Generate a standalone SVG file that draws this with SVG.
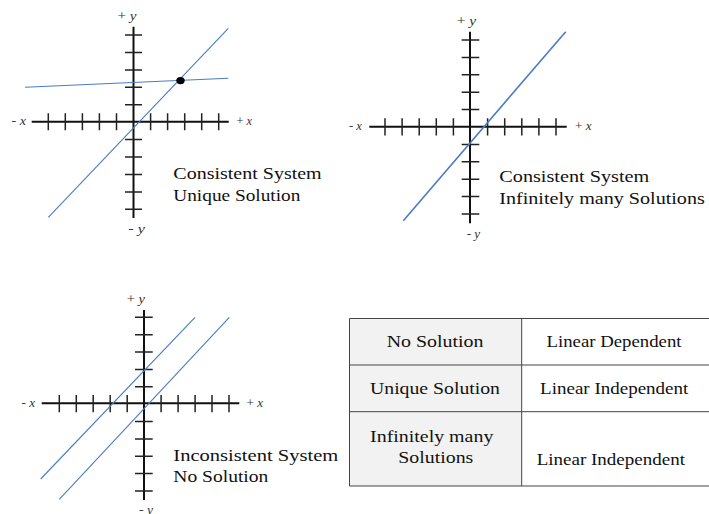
<svg xmlns="http://www.w3.org/2000/svg" width="709" height="514" viewBox="0 0 709 514">
<style>
.axis{stroke:#111;stroke-width:2;fill:none}
.tick{stroke:#222;stroke-width:1.5;fill:none}
.ln{stroke:#4a7cc4;stroke-width:1.1;fill:none}
.lbl{font-family:"Liberation Serif","DejaVu Serif","Times New Roman",serif;font-size:12px;fill:#333}
.lbl .v{font-style:italic}
.t{font-family:"Liberation Serif","DejaVu Serif","Times New Roman",serif;font-size:17px;fill:#111}
.cell{stroke:#444;stroke-width:1}
</style>
<rect width="709" height="514" fill="#fff"/>

<g id="graph-unique">
  <path class="axis" d="M31.7 121.7H228.7M133.5 26.7V218"/>
  <path class="tick" d="M48.3 113.2V130.2M65.3 113.2V130.2M82.4 113.2V130.2M99.4 113.2V130.2M116.5 113.2V130.2M150.6 113.2V130.2M167.6 113.2V130.2M184.7 113.2V130.2M201.7 113.2V130.2M218.7 113.2V130.2"/>
  <path class="tick" d="M125 35H142M125 52.4H142M125 69.9H142M125 87.3H142M125 104.7H142M125 139.6H142M125 157H142M125 174.4H142M125 191.9H142M125 209.3H142"/>
  <g class="lines">
    <path class="ln" d="M48.3 217.3L228.3 28.3"/>
    <path class="ln" d="M25 87.3L228.3 78.3"/>
  </g>
  <ellipse cx="180.5" cy="80.6" rx="4.2" ry="3.7" fill="#000"/>
  <text class="lbl" x="11.5" y="125" textLength="14.5" lengthAdjust="spacingAndGlyphs">- <tspan class="v">x</tspan></text>
  <text class="lbl" x="236.5" y="125" textLength="15.5" lengthAdjust="spacingAndGlyphs">+ <tspan class="v">x</tspan></text>
  <text class="lbl" x="117.5" y="20" textLength="19" lengthAdjust="spacingAndGlyphs">+ <tspan class="v">y</tspan></text>
  <text class="lbl" x="128.3" y="233" textLength="16.5" lengthAdjust="spacingAndGlyphs">- <tspan class="v">y</tspan></text>
  <text class="t" x="173.3" y="179" textLength="148.4" lengthAdjust="spacingAndGlyphs">Consistent System</text>
  <text class="t" x="173.3" y="200.5" textLength="127" lengthAdjust="spacingAndGlyphs">Unique Solution</text>
</g>

<g id="graph-infinite">
  <path class="axis" d="M369.3 126.7H566.7M470 31.7V223.3"/>
  <path class="tick" d="M385 118.3V135.5M402.1 118.3V135.5M419.2 118.3V135.5M436.3 118.3V135.5M453.4 118.3V135.5M487.6 118.3V135.5M504.7 118.3V135.5M521.8 118.3V135.5M538.9 118.3V135.5M556 118.3V135.5"/>
  <path class="tick" d="M461.7 40H479.3M461.7 57.4H479.3M461.7 74.8H479.3M461.7 92.2H479.3M461.7 109.6H479.3M461.7 144.4H479.3M461.7 161.8H479.3M461.7 179.2H479.3M461.7 196.6H479.3M461.7 214H479.3"/>
  <g class="lines">
    <path class="ln" style="stroke-width:1.6" d="M403.3 220.7L565.7 31.7"/>
  </g>
  <text class="lbl" x="349" y="130" textLength="13" lengthAdjust="spacingAndGlyphs">- <tspan class="v">x</tspan></text>
  <text class="lbl" x="575" y="130" textLength="16.5" lengthAdjust="spacingAndGlyphs">+ <tspan class="v">x</tspan></text>
  <text class="lbl" x="456.7" y="25" textLength="19.5" lengthAdjust="spacingAndGlyphs">+ <tspan class="v">y</tspan></text>
  <text class="lbl" x="466.7" y="238" textLength="13.5" lengthAdjust="spacingAndGlyphs">- <tspan class="v">y</tspan></text>
  <text class="t" x="499.3" y="181.5" textLength="150" lengthAdjust="spacingAndGlyphs">Consistent System</text>
  <text class="t" x="499.3" y="203.5" textLength="205.5" lengthAdjust="spacingAndGlyphs">Infinitely many Solutions</text>
</g>

<g id="graph-none">
  <path class="axis" d="M41.7 403.3H239.3M144 310V500"/>
  <path class="tick" d="M59.3 395V412.3M76.3 395V412.3M93.2 395V412.3M110.2 395V412.3M127.2 395V412.3M161.1 395V412.3M178.1 395V412.3M195.1 395V412.3M212 395V412.3M229 395V412.3"/>
  <path class="tick" d="M135 317.3H152.7M135 334.7H152.7M135 352H152.7M135 369.4H152.7M135 386.8H152.7M135 421.5H152.7M135 438.9H152.7M135 456.3H152.7M135 473.6H152.7M135 491H152.7"/>
  <g class="lines">
    <path class="ln" d="M40.7 479L195 317.3"/>
    <path class="ln" d="M59.3 499.3L229.3 317.3"/>
  </g>
  <text class="lbl" x="21.5" y="407" textLength="13.5" lengthAdjust="spacingAndGlyphs">- <tspan class="v">x</tspan></text>
  <text class="lbl" x="246.5" y="407" textLength="16.5" lengthAdjust="spacingAndGlyphs">+ <tspan class="v">x</tspan></text>
  <text class="lbl" x="126.7" y="303" textLength="18.3" lengthAdjust="spacingAndGlyphs">+ <tspan class="v">y</tspan></text>
  <text class="lbl" x="139" y="514" textLength="14" lengthAdjust="spacingAndGlyphs">- <tspan class="v">y</tspan></text>
  <text class="t" x="173.3" y="461" textLength="165" lengthAdjust="spacingAndGlyphs">Inconsistent System</text>
  <text class="t" x="173.3" y="482.3" textLength="95" lengthAdjust="spacingAndGlyphs">No Solution</text>
</g>

<g id="table">
  <rect x="349.5" y="318.5" width="172" height="167.5" fill="#f2f2f2"/>
  <path class="cell" d="M349.5 318.5H709M349.5 365H709M349.5 411.7H709M349.5 486H709M349.5 318.5V486M521.7 318.5V486"/>
  <text class="t" x="435" y="347.3" text-anchor="middle" textLength="96.7" lengthAdjust="spacingAndGlyphs">No Solution</text>
  <text class="t" x="614" y="347.3" text-anchor="middle" textLength="135" lengthAdjust="spacingAndGlyphs">Linear Dependent</text>
  <text class="t" x="435" y="394.3" text-anchor="middle" textLength="130" lengthAdjust="spacingAndGlyphs">Unique Solution</text>
  <text class="t" x="614.2" y="394.3" text-anchor="middle" textLength="148.3" lengthAdjust="spacingAndGlyphs">Linear Independent</text>
  <text class="t" x="431.7" y="441.5" text-anchor="middle" textLength="123.3" lengthAdjust="spacingAndGlyphs">Infinitely many</text>
  <text class="t" x="435.8" y="462.7" text-anchor="middle" textLength="75" lengthAdjust="spacingAndGlyphs">Solutions</text>
  <text class="t" x="610.8" y="465" text-anchor="middle" textLength="148.3" lengthAdjust="spacingAndGlyphs">Linear Independent</text>
</g>
</svg>
